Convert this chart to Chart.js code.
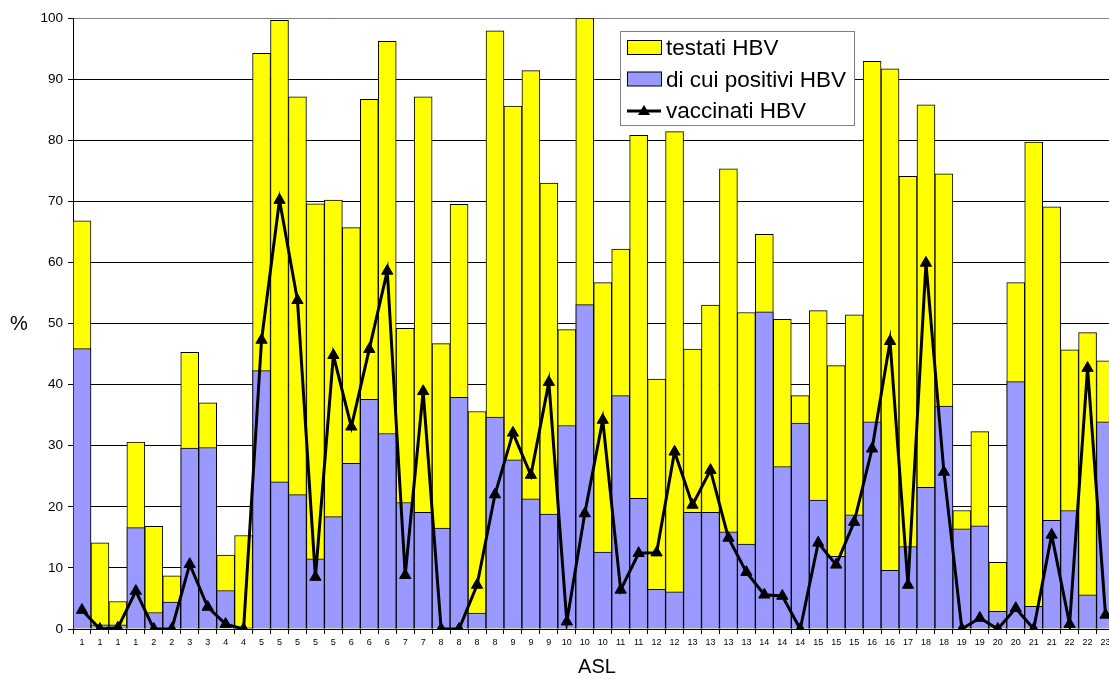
<!DOCTYPE html>
<html>
<head>
<meta charset="utf-8">
<script src="https://cdn.jsdelivr.net/npm/chart.js@4.4.1/dist/chart.umd.min.js"></script>
<style>
  html, body { margin: 0; padding: 0; overflow: hidden; background: #fff; }
</style>
</head>
<body>
<canvas id="hbvChart" width="1122" height="679"></canvas>
<script>
// ASL di appartenenza (una colonna per centro)
const asl = ['1','1','1','1','2','2','3','3','4','4','5','5','5','5','5','6','6','6','7','7',
             '8','8','8','8','9','9','9','10','10','10','11','11','12','12','13','13','13','13','14','14',
             '14','15','15','15','16','16','17','18','18','19','19','20','20','21','21','22','22','23'];

const testati = [66.8, 14.1, 4.5, 30.6, 16.8, 8.7, 45.3, 37.0, 12.1, 15.3,
                 94.2, 99.6, 87.1, 69.6, 70.2, 65.7, 86.7, 96.2, 49.2, 87.1,
                 46.7, 69.5, 35.6, 97.9, 85.6, 91.4, 73.0, 49.0, 100, 56.7,
                 62.2, 80.8, 40.9, 81.4, 45.8, 53.0, 75.3, 51.8, 64.6, 50.7,
                 38.2, 52.1, 43.1, 51.4, 92.9, 91.7, 74.1, 85.8, 74.5, 19.4,
                 32.3, 10.9, 56.7, 79.7, 69.1, 45.7, 48.5, 43.9];

const positivi = [45.9, 0.7, 0.7, 16.6, 2.7, 4.4, 29.6, 29.7, 6.3, 0.2,
                  42.3, 24.1, 22.0, 11.5, 18.4, 27.1, 37.6, 32.0, 20.7, 19.1,
                  16.5, 37.9, 2.6, 34.7, 27.7, 21.3, 18.8, 33.3, 53.1, 12.6,
                  38.2, 21.4, 6.5, 6.1, 19.1, 19.1, 15.9, 13.9, 51.9, 26.6,
                  33.7, 21.1, 11.9, 18.7, 33.9, 9.6, 13.5, 23.2, 36.5, 16.4,
                  16.9, 2.9, 40.5, 3.7, 17.8, 19.4, 5.6, 33.9];

const vaccinati = [3.1, 0, 0.2, 6.2, 0, 0, 10.6, 3.6, 0.8, 0,
                   47.3, 70.2, 53.8, 8.5, 44.8, 33.1, 45.8, 58.6, 8.8, 38.9,
                   0, 0, 7.2, 22.0, 32.1, 25.2, 40.4, 1.2, 18.9, 34.2,
                   6.4, 12.4, 12.5, 29.0, 20.3, 26.0, 14.9, 9.3, 5.6, 5.4,
                   0, 14.1, 10.5, 17.5, 29.5, 47.1, 7.2, 59.9, 25.7, 0,
                   1.8, 0, 3.4, 0, 15.4, 0.8, 42.7, 2.3];

const yTicks = [0, 10, 20, 30, 40, 50, 60, 70, 80, 90, 100];

const FONT = '"Liberation Sans", Arial, sans-serif';

// legenda e titoli degli assi disegnati a mano (posizione come nell'originale)
const extraText = {
    id: 'extraText',
    afterDraw(chart) {
        const ctx = chart.ctx;
        const ds = chart.data.datasets;
        ctx.save();

        // titoli assi
        ctx.fillStyle = '#000';
        ctx.font = '20px ' + FONT;
        ctx.textAlign = 'center';
        ctx.textBaseline = 'middle';
        ctx.fillText('%', 19, 324);
        ctx.fillText('ASL', 597, 667);

        // riquadro legenda
        ctx.fillStyle = '#fff';
        ctx.fillRect(620.5, 31.5, 234, 94);
        ctx.strokeStyle = '#808080';
        ctx.lineWidth = 1;
        ctx.strokeRect(620.5, 31.5, 234, 94);

        const rows = [48, 79.5, 111];
        ctx.font = '22.5px ' + FONT;
        ctx.textAlign = 'left';
        ds.forEach((d, i) => {
            const y = rows[i];
            if (d.type === 'line') {
                ctx.strokeStyle = '#000';
                ctx.lineWidth = 3;
                ctx.beginPath();
                ctx.moveTo(627, y);
                ctx.lineTo(661, y);
                ctx.stroke();
                ctx.fillStyle = '#000';
                ctx.beginPath();
                ctx.moveTo(644, y - 6);
                ctx.lineTo(650, y + 4);
                ctx.lineTo(638, y + 4);
                ctx.closePath();
                ctx.fill();
            } else {
                ctx.fillStyle = d.backgroundColor;
                ctx.fillRect(627.5, y - 7.5, 34, 14);
                ctx.strokeStyle = '#000';
                ctx.lineWidth = 1;
                ctx.strokeRect(627.5, y - 7.5, 34, 14);
            }
            ctx.fillStyle = '#000';
            ctx.fillText(d.label, 666, y + 1);
        });
        ctx.restore();
    }
};

const ctx = document.getElementById('hbvChart').getContext('2d');
new Chart(ctx, {
    type: 'bar',
    data: {
        labels: asl,
        datasets: [{
            label: 'testati HBV',
            data: testati,
            backgroundColor: '#FFFF00',
            borderColor: '#000000',
            borderWidth: 1,
            barPercentage: 1,
            categoryPercentage: 1,
            order: 3
        }, {
            label: 'di cui positivi HBV',
            data: positivi,
            backgroundColor: '#9999FF',
            borderColor: '#000000',
            borderWidth: 1,
            barPercentage: 1,
            categoryPercentage: 1,
            order: 2
        }, {
            type: 'line',
            label: 'vaccinati HBV',
            data: vaccinati,
            borderColor: '#000000',
            borderWidth: 3,
            backgroundColor: '#000000',
            pointStyle: 'triangle',
            pointRadius: 6.5,
            pointBackgroundColor: '#000000',
            pointBorderColor: '#000000',
            pointBorderWidth: 1,
            tension: 0,
            order: 1
        }]
    },
    options: {
        responsive: false,
        animation: false,
        layout: { padding: { top: 18, right: 3, left: 0, bottom: 0 } },
        scales: {
            x: {
                stacked: true, // barre sovrapposte, non sommate
                grid: { offset: true, drawOnChartArea: false, tickLength: 5, color: '#000' },
                border: { color: '#000', width: 1 },
                ticks: {
                    autoSkip: false, maxRotation: 0, minRotation: 0, padding: 3,
                    color: '#000', font: { family: FONT, size: 9 }
                },
                afterFit(scale) { scale.height = 50; }
            },
            y: {
                stacked: false,
                min: 0,
                max: 100,
                afterBuildTicks(scale) { scale.ticks = yTicks.map(v => ({ value: v })); },
                grid: {
                    color: c => (c.tick && c.tick.value === 100) ? '#808080' : '#000',
                    tickColor: '#000',
                    tickLength: 5
                },
                border: { color: '#000', width: 1 },
                ticks: { padding: 5, color: '#000', font: { family: FONT, size: 13.5 } },
                afterFit(scale) { scale.width = 73; }
            }
        },
        plugins: {
            legend: { display: false },
            tooltip: { enabled: false }
        }
    },
    plugins: [extraText]
});
</script>
</body>
</html>
